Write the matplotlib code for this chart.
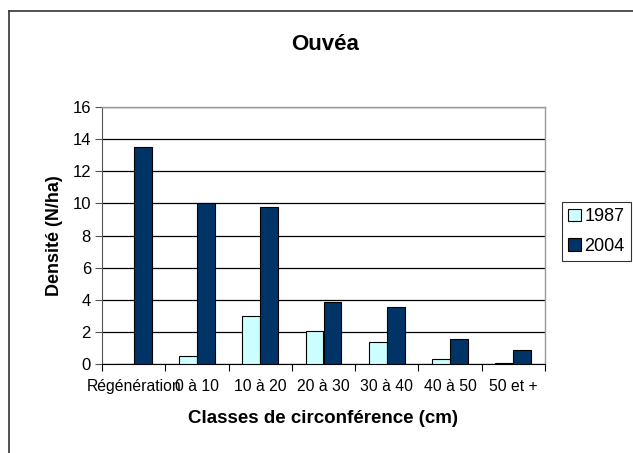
import matplotlib
matplotlib.use("Agg")
import matplotlib.pyplot as plt
import numpy as np
from matplotlib.lines import Line2D

categories = ["Régénération", "0 à 10", "10 à 20", "20 à 30", "30 à 40", "40 à 50", "50 et +"]
years = ["1987", "2004"]
values_1987 = [0.0, 0.48, 3.0, 2.04, 1.35, 0.29, 0.08]
values_2004 = [13.5, 10.0, 9.8, 3.84, 3.55, 1.56, 0.89]
yticks = [0, 2, 4, 6, 8, 10, 12, 14, 16]

W, H = 633, 453
fig = plt.figure(figsize=(W / 100, H / 100), dpi=100)
plt.rcParams['font.family'] = ['Liberation Sans', 'DejaVu Sans']

def fx(px):
    return px / W

def fy(py):
    return 1 - py / H

ax = fig.add_axes([fx(102), fy(364), fx(545) - fx(102), fy(107) - fy(364)])

x = np.arange(len(categories))
bw = 0.284
ax.bar(x - bw / 2, values_1987, bw, color="#CCFFFF", edgecolor="black", linewidth=0.8, label=years[0], zorder=3)
ax.bar(x + bw / 2, values_2004, bw, color="#003366", edgecolor="black", linewidth=0.8, label=years[1], zorder=3)

ax.set_xlim(-0.5, len(categories) - 0.5)
ax.set_ylim(0, 16)
ax.set_yticks(yticks)
ax.set_yticklabels([str(v) for v in yticks], fontsize=12)
ax.set_xticks(x)
ax.set_xticklabels(categories, fontsize=11.3)
ax.tick_params(axis="x", which="major", length=0, pad=11)
ax.set_xticks(np.arange(-0.5, len(categories), 1.0), minor=True)
ax.tick_params(axis="x", which="minor", length=5, width=0.8, color="black", direction="out")
ax.tick_params(axis="y", length=5, width=0.8, color="#555555", direction="out", pad=3)

ax.grid(axis="y", color="black", linewidth=0.9, zorder=0)
ax.set_axisbelow(True)
for s in ["top", "right"]:
    ax.spines[s].set_color("#999999")
    ax.spines[s].set_linewidth(1.0)
ax.spines["left"].set_color("#555555")
ax.spines["bottom"].set_color("black")

ax.set_ylabel("Densité (N/ha)", fontsize=13, fontweight="bold", labelpad=7)
ax.set_xlabel("Classes de circonférence (cm)", fontsize=13.5, fontweight="bold", labelpad=11)

fig.text(fx(325), fy(44), "Ouvéa", ha="center", va="center", fontsize=16, fontweight="bold")

leg = fig.legend(loc="upper left", bbox_to_anchor=(fx(562), fy(202)), fontsize=13,
                 frameon=True, fancybox=False, edgecolor="black", handlelength=0.7,
                 handleheight=0.7, handletextpad=0.2, borderpad=0.35, labelspacing=0.7,
                 borderaxespad=0)
leg.get_frame().set_linewidth(0.8)

# outer chart frame
fig.add_artist(Line2D([fx(9), fx(9)], [fy(11), fy(460)], color="#333333", linewidth=1.2))
fig.add_artist(Line2D([fx(9), fx(640)], [fy(11), fy(11)], color="#333333", linewidth=1.2))

fig.savefig("out.png", dpi=100)
